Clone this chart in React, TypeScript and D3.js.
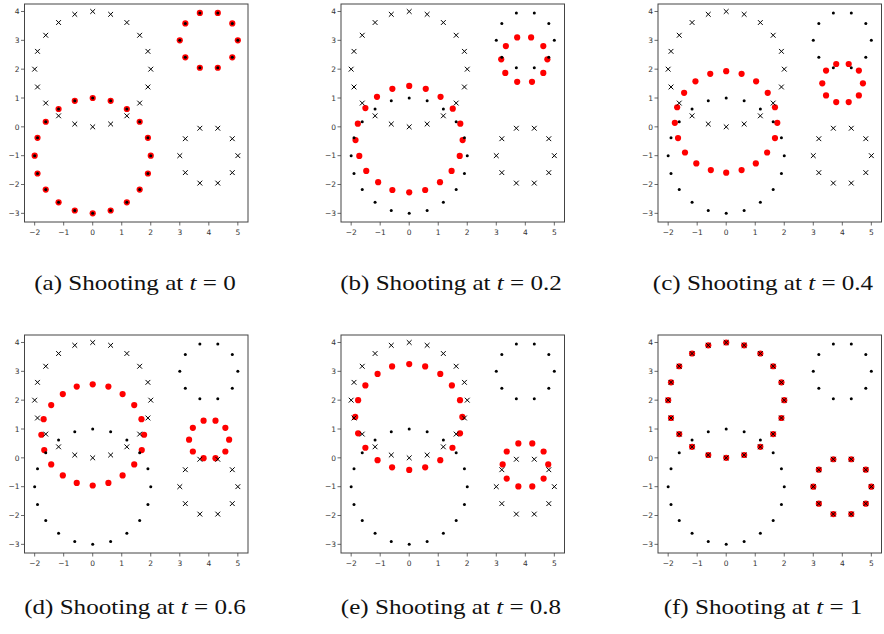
import React from 'react';
import * as d3 from 'd3';

type P = [number, number];

// Source points (t = 0): big circle around (0,-1), small circle around (4,3)
const sourcePoints: P[] = [
  [0, 1], [0.618, 0.902], [1.176, 0.618], [1.618, 0.176], [1.902, -0.382], [2, -1], [1.902, -1.618], [1.618, -2.176], [1.176, -2.618], [0.618, -2.902],
  [0, -3], [-0.618, -2.902], [-1.176, -2.618], [-1.618, -2.176], [-1.902, -1.618], [-2, -1], [-1.902, -0.382], [-1.618, 0.176], [-1.176, 0.618], [-0.618, 0.902],
  [5, 3], [4.809, 3.588], [4.309, 3.951], [3.691, 3.951], [3.191, 3.588], [3, 3], [3.191, 2.412], [3.691, 2.049], [4.309, 2.049], [4.809, 2.412],
];

// Target points (t = 1): big circle around (0,2), small circle around (4,-1)
const targetPoints: P[] = [
  [0, 4], [0.618, 3.902], [1.176, 3.618], [1.618, 3.176], [1.902, 2.618], [2, 2], [1.902, 1.382], [1.618, 0.824], [1.176, 0.382], [0.618, 0.098],
  [0, 0], [-0.618, 0.098], [-1.176, 0.382], [-1.618, 0.824], [-1.902, 1.382], [-2, 2], [-1.902, 2.618], [-1.618, 3.176], [-1.176, 3.618], [-0.618, 3.902],
  [5, -1], [4.809, -0.412], [4.309, -0.049], [3.691, -0.049], [3.191, -0.412], [3, -1], [3.191, -1.588], [3.691, -1.951], [4.309, -1.951], [4.809, -1.588],
];

const shotT02: P[] = [
  [0, 1.42], [0.57, 1.32], [1.08, 1.04], [1.5, 0.63], [1.76, 0.11], [1.84, -0.46], [1.74, -1.01], [1.46, -1.53], [1.06, -1.92], [0.55, -2.19],
  [0, -2.27], [-0.58, -2.19], [-1.07, -1.92], [-1.48, -1.53], [-1.72, -1.01], [-1.85, -0.46], [-1.77, 0.11], [-1.51, 0.65], [-1.11, 1.04], [-0.58, 1.32],
  [4.76, 2.34], [4.62, 2.8], [4.2, 3.1], [3.72, 3.1], [3.33, 2.8], [3.17, 2.34], [3.31, 1.87], [3.72, 1.56], [4.23, 1.56], [4.62, 1.87],
];

const shotT04: P[] = [
  [0, 1.93], [0.53, 1.84], [1.03, 1.58], [1.43, 1.18], [1.68, 0.68], [1.76, 0.14], [1.68, -0.39], [1.41, -0.89], [1.02, -1.27], [0.53, -1.5],
  [0, -1.59], [-0.53, -1.5], [-1.03, -1.27], [-1.42, -0.89], [-1.66, -0.39], [-1.77, 0.14], [-1.69, 0.68], [-1.45, 1.18], [-1.06, 1.58], [-0.55, 1.84],
  [4.71, 1.51], [4.57, 1.95], [4.22, 2.18], [3.79, 2.18], [3.44, 1.95], [3.31, 1.51], [3.44, 1.09], [3.79, 0.86], [4.22, 0.86], [4.57, 1.09],
];

const shotT06: P[] = [
  [0, 2.55], [0.54, 2.47], [1.03, 2.21], [1.43, 1.83], [1.68, 1.34], [1.77, 0.8], [1.69, 0.27], [1.43, -0.23], [1.03, -0.61], [0.54, -0.87],
  [0, -0.96], [-0.55, -0.87], [-1.03, -0.61], [-1.43, -0.23], [-1.67, 0.27], [-1.77, 0.8], [-1.69, 1.34], [-1.43, 1.83], [-1.03, 2.21], [-0.55, 2.47],
  [4.7, 0.63], [4.57, 1.04], [4.23, 1.29], [3.82, 1.29], [3.45, 1.04], [3.32, 0.63], [3.45, 0.22], [3.82, -0.01], [4.23, -0.01], [4.57, 0.22],
];

const shotT08: P[] = [
  [0, 3.25], [0.55, 3.17], [1.07, 2.91], [1.47, 2.51], [1.75, 2.0], [1.83, 1.42], [1.75, 0.85], [1.49, 0.35], [1.07, -0.08], [0.55, -0.33],
  [0, -0.42], [-0.59, -0.33], [-1.09, -0.08], [-1.51, 0.35], [-1.76, 0.85], [-1.86, 1.42], [-1.76, 2.0], [-1.51, 2.51], [-1.09, 2.91], [-0.59, 3.17],
  [4.79, -0.23], [4.63, 0.22], [4.24, 0.5], [3.76, 0.5], [3.36, 0.22], [3.22, -0.23], [3.36, -0.72], [3.76, -0.99], [4.24, -0.99], [4.63, -0.72],
];

const panelLetters = ['a', 'b', 'c', 'd', 'e', 'f'];
const panelTimes = ['0', '0.2', '0.4', '0.6', '0.8', '1'];
const panelShots: P[][] = [sourcePoints, shotT02, shotT04, shotT06, shotT08, targetPoints];

const xTicks = [-2, -1, 0, 1, 2, 3, 4, 5];
const yTicks = [-3, -2, -1, 0, 1, 2, 3, 4];

const colLefts = [24.5, 341, 658];
const rowTops = [4, 335];
const captionCenters = [135, 451, 763];
const PW = 223.5;
const PH = 218;

const fmt = (v: number) => (v < 0 ? '\u2212' + Math.abs(v) : String(v));

function Panel({ idx }: { idx: number }) {
  const col = idx % 3;
  const row = Math.floor(idx / 3);
  const left = colLefts[col];
  const top = rowTops[row];
  const x = d3.scaleLinear().domain([-2.35, 5.35]).range([left, left + PW]);
  const y = d3.scaleLinear().domain([-3.3, 4.26]).range([top + PH, top]);
  const shots = panelShots[idx];
  const axisColor = '#444';
  const cx0 = captionCenters[col];
  const cy0 = row === 0 ? 290 : 614;
  return (
    <g>
      {shots.map((p, i) => (
        <circle key={'r' + i} cx={x(p[0])} cy={y(p[1])} r={3.1} fill="#ff0000" />
      ))}
      {sourcePoints.map((p, i) => (
        <circle key={'s' + i} cx={x(p[0])} cy={y(p[1])} r={1.5} fill="#000" />
      ))}
      {targetPoints.map((p, i) => {
        const cx = x(p[0]);
        const cy = y(p[1]);
        const a = 2.4;
        return (
          <path key={'t' + i} d={`M${cx - a},${cy - a}L${cx + a},${cy + a}M${cx - a},${cy + a}L${cx + a},${cy - a}`} stroke="#000" strokeWidth={1} fill="none" />
        );
      })}
      <rect x={left} y={top} width={PW} height={PH} fill="none" stroke={axisColor} strokeWidth={1} />
      {xTicks.map((t) => (
        <g key={'xt' + t}>
          <line x1={x(t)} x2={x(t)} y1={top + PH} y2={top + PH + 3.5} stroke={axisColor} strokeWidth={0.8} />
          <text x={x(t)} y={top + PH + 12.5} fontSize={7.5} textAnchor="middle" fill="#333" fontFamily="DejaVu Sans">{fmt(t)}</text>
        </g>
      ))}
      {yTicks.map((t) => (
        <g key={'yt' + t}>
          <line x1={left - 3.5} x2={left} y1={y(t)} y2={y(t)} stroke={axisColor} strokeWidth={0.8} />
          <text x={left - 5} y={y(t) + 2.7} fontSize={7.5} textAnchor="end" fill="#333" fontFamily="DejaVu Sans">{fmt(t)}</text>
        </g>
      ))}
      <g transform={`translate(${cx0},${cy0}) scale(1.14,1)`}>
        <text x={0} y={0} fontSize={22} textAnchor="middle" fill="#111" fontFamily="Liberation Serif">
          ({panelLetters[idx]}) Shooting at <tspan fontStyle="italic">t</tspan> = {panelTimes[idx]}
        </text>
      </g>
    </g>
  );
}

export default function App() {
  return (
    <svg width={884} height={634} style={{ position: 'absolute', left: 0, top: 0, background: '#fff' }}>
      <rect x={0} y={0} width={884} height={634} fill="#fff" />
      {panelShots.map((_, i) => (
        <Panel key={i} idx={i} />
      ))}
    </svg>
  );
}
